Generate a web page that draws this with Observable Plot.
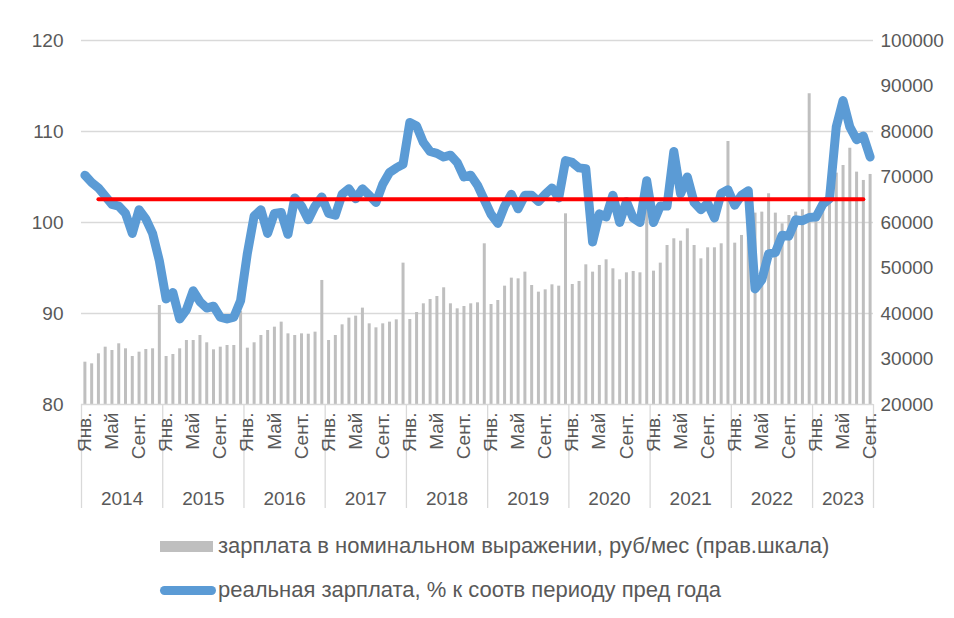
<!DOCTYPE html>
<html>
<head>
<meta charset="utf-8">
<script src="https://cdn.jsdelivr.net/npm/d3@7"></script>
<script src="https://cdn.jsdelivr.net/npm/@observablehq/plot@0.6"></script>
<style>
  html, body { margin: 0; padding: 0; background: #fff; }
  #wrap { position: relative; width: 954px; height: 618px; font-family: "Liberation Sans", Arial, sans-serif; color: #595959; }
  .lg-text { position: absolute; left: 218px; font-size: 22px; line-height: 24px; white-space: nowrap; }
  .sw { position: absolute; }
</style>
</head>
<body>
<div id="wrap">
  <div id="chart"></div>
  <div class="sw" style="left:160px; top:541px; width:53px; height:11px; background:#bfbfbf;"></div>
  <div class="lg-text" style="top:534px;">зарплата в номинальном выражении, руб/мес (прав.шкала)</div>
  <div class="sw" style="left:160px; top:586px; width:56px; height:9px; border-radius:5px; background:#5b9bd5;"></div>
  <div class="lg-text" style="top:578px;">реальная зарплата, % к соотв периоду пред года</div>
</div>
<script>
// ---- data ----
const years = [2014, 2015, 2016, 2017, 2018, 2019, 2020, 2021, 2022, 2023];
const monthTickIndex = [0, 4, 8];
const monthTickLabels = ["Янв.", "Май", "Сент."];

// real wage, % to same period of previous year (left scale), Jan 2014 – Sep 2023
const realWage = [
  105.2, 104.4, 103.8, 102.9, 102.0, 101.8, 101.0, 98.8, 101.4, 100.4, 98.8, 95.8,
  91.6, 92.3, 89.4, 90.4, 92.5, 91.3, 90.6, 90.8, 89.6, 89.4, 89.6, 91.4,
  96.6, 100.7, 101.4, 98.8, 101.0, 101.1, 98.7, 102.7, 101.8, 100.3, 101.8, 102.8,
  101.0, 100.8, 103.1, 103.7, 102.6, 103.7, 103.0, 102.2, 104.2, 105.5, 106.0, 106.4,
  111.0, 110.6, 108.8, 107.8, 107.6, 107.2, 107.4, 106.6, 105.0, 105.2, 104.1, 102.5,
  100.9, 99.9, 101.8, 103.1, 101.5, 103.0, 103.0, 102.3, 103.1, 103.8, 102.7, 106.8,
  106.6, 106.0, 105.9, 97.85, 100.95, 100.6, 103.0, 100.0, 102.3, 100.5, 100.0, 104.6,
  100.0, 101.8, 101.8, 107.8, 103.15, 105.0, 102.2, 101.4, 102.1, 100.5, 103.2, 103.6,
  101.9, 103.0, 103.5, 92.7, 93.7, 96.55, 96.7, 98.6, 98.5, 100.3, 100.2, 100.55,
  100.6, 102.0, 102.6, 110.5, 113.4, 110.5, 109.1, 109.5, 107.2
];

// nominal wage, rub/month (right scale)
const nominalWage = [
  29300, 28940, 31140, 32600, 31870, 33340, 32240, 30550, 31500, 32090, 32240, 41760,
  30550, 30990, 32240, 34070, 34070, 35170, 33560, 32020, 32600, 32970, 32970, 40500,
  32380, 33560, 35170, 36270, 37000, 38100, 35530, 35170, 35530, 35450, 35900, 47260,
  34070, 35170, 37510, 38980, 39420, 41180, 37730, 36850, 37730, 38100, 38610, 51070,
  38680, 40220, 42130, 43080, 43740, 45650, 42130, 41030, 41540, 42130, 42350, 55320,
  41980, 42860, 46010, 47770, 47620, 49090, 46160, 44690, 45200, 46300, 46010, 61910,
  46380, 47040, 50700, 49090, 50560, 51800, 49820, 47400, 48940, 49240, 48940, 66000,
  49310, 51070, 54950, 56420, 55900, 58610, 54950, 52020, 54440, 54440, 55320, 77810,
  55460, 57150, 63000, 62060, 62280, 66310, 62060, 59710, 61540, 62280, 62790, 88290,
  61000, 63000, 65500, 70850, 72530, 76340, 71070, 69240, 70560
];

// horizontal reference level (left scale) and its month span (indices)
const benchmarkLevel = 102.55;
const benchmarkFromMonth = 2;
const benchmarkToMonth = 115;

const leftTicks = [80, 90, 100, 110, 120];
const rightTicks = [20000, 30000, 40000, 50000, 60000, 70000, 80000, 90000, 100000];

// ---- build ----
const leftDomain = [80, 120];
const rightDomain = [20000, 100000];
const toLeft = v => leftDomain[0] + (v - rightDomain[0]) * (leftDomain[1] - leftDomain[0]) / (rightDomain[1] - rightDomain[0]);
const toRight = v => rightDomain[0] + (v - leftDomain[0]) * (rightDomain[1] - rightDomain[0]) / (leftDomain[1] - leftDomain[0]);

const n = realWage.length;
const rows = d3.range(n).map(i => ({i, c: i + 0.5, real: realWage[i], nom: nominalWage[i]}));
const yearInfo = years.map((y, k) => {
  const s = k * 12, e = Math.min(s + 12, n);
  return {year: y, start: s, end: e, mid: (s + e) / 2};
});
const yearBounds = [0, ...yearInfo.map(d => d.end)];
const monthLabels = [];
yearInfo.forEach(y => monthTickIndex.forEach((m, j) => {
  if (y.start + m < n) monthLabels.push({c: y.start + m + 0.5, label: monthTickLabels[j]});
}));
const benchRows = rows.filter(d => d.i >= benchmarkFromMonth && d.i <= benchmarkToMonth).map(d => ({c: d.c, v: benchmarkLevel}));

const chart = Plot.plot({
  width: 954,
  height: 520,
  marginTop: 40,
  marginBottom: 116,
  marginLeft: 81,
  marginRight: 81,
  x: {type: "linear", domain: [0, n]},
  y: {domain: leftDomain},
  style: {fontFamily: "'Liberation Sans', Arial, sans-serif", fontSize: "19px", color: "#595959", background: "white", overflow: "visible"},
  marks: [
    Plot.gridY(leftTicks.slice(1), {stroke: "#d9d9d9", strokeOpacity: 1, strokeWidth: 1.3}),
    Plot.ruleX(rows, {x: "c", y1: leftDomain[0], y2: d => toLeft(d.nom), stroke: "#bfbfbf", strokeWidth: 3}),
    Plot.ruleY([leftDomain[0]], {stroke: "#d9d9d9", strokeWidth: 1.3}),
    Plot.axisX(yearBounds, {tickSize: 104, tickFormat: () => "", stroke: "#d9d9d9", strokeWidth: 1.3, label: null}),
    Plot.line(rows, {x: "c", y: "real", stroke: "#5b9bd5", strokeWidth: 9, strokeLinejoin: "round", strokeLinecap: "round"}),
    Plot.line(benchRows, {x: "c", y: "v", stroke: "#ff0000", strokeWidth: 4}),
    Plot.axisY(leftTicks, {anchor: "left", tickSize: 0, tickPadding: 18, label: null, fill: "#595959"}),
    Plot.axisY(rightTicks.map(toLeft), {anchor: "right", tickSize: 0, tickPadding: 7, label: null, fill: "#595959",
      tickFormat: v => String(Math.round(toRight(v)))}),
    Plot.text(monthLabels, {x: "c", y: leftDomain[0], text: "label", rotate: -90, textAnchor: "end", dy: 8, fill: "#595959"}),
    Plot.text(yearInfo, {x: "mid", y: leftDomain[0], text: d => String(d.year), dy: 94, fill: "#595959"})
  ]
});
document.getElementById("chart").appendChild(chart);
</script>
</body>
</html>
